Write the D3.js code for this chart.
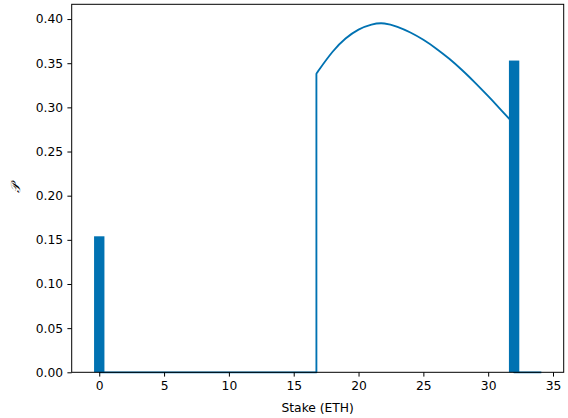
<!DOCTYPE html>
<html><head><meta charset="utf-8">
<script src="https://cdn.jsdelivr.net/npm/d3@7"></script>
<style>body{margin:0;background:#fff}svg{display:block}text{font-family:"DejaVu Sans",sans-serif}</style>
</head><body>
<svg id="c" width="568" height="418"></svg>
<script>
const barStakes = [0, 32];
const barProbs = [0.154, 0.353];
// flat part before the jump, smooth density part, flat part after the 32 ETH cap
const lowStakes = [0, 16.75];
const lowProbs = [0, 0];
const curveStakes = [16.75, 17, 18, 19, 20, 21, 22, 23, 24, 25, 26, 27, 28, 29, 30, 31, 31.9];
const curveProbs = [0.338, 0.3435, 0.363, 0.378, 0.388, 0.3938, 0.395, 0.3912, 0.3848, 0.3765, 0.3665, 0.355, 0.342, 0.3278, 0.3127, 0.297, 0.2828];
const highStakes = [31.9, 32, 34.1];
const highProbs = [0.2828, 0, 0];
const xTicks = [0, 5, 10, 15, 20, 25, 30, 35];
const yTicks = [0, 0.05, 0.10, 0.15, 0.20, 0.25, 0.30, 0.35, 0.40];
const color = "#0072B2";

const svg = d3.select("#c");
const L = 71.7, R = 563.7, T = 4.3, B = 372.3;
const x = d3.scaleLinear().domain([-2.125, 35.825]).range([L, R]);
const y = d3.scaleLinear().domain([0, 0.4167]).range([B, T]);

const pts = (xs, ys) => xs.map((s, i) => [s, ys[i]]);
const lin = d3.line().x(d => x(d[0])).y(d => y(d[1]));
const smooth = d3.line().x(d => x(d[0])).y(d => y(d[1])).curve(d3.curveNatural);
const lowPts = pts(lowStakes, lowProbs).concat([[curveStakes[0], curveProbs[0]]]);
const pathD = lin(lowPts) + smooth(pts(curveStakes, curveProbs)).replace(/^M[^CL]*/, "") + lin(pts(highStakes, highProbs)).replace(/^M[^L]*/, "");

const g = svg.append("g");
g.append("path")
  .attr("fill", "none").attr("stroke", color).attr("stroke-width", 1.85)
  .attr("stroke-linejoin", "round")
  .attr("d", pathD);

const bw = 0.8;
g.selectAll("rect.bar").data(barStakes).join("rect")
  .attr("x", d => x(d - bw / 2))
  .attr("width", d => x(d + bw / 2) - x(d - bw / 2))
  .attr("y", (d, i) => y(barProbs[i]))
  .attr("height", (d, i) => y(0) - y(barProbs[i]))
  .attr("fill", color);

const xAxis = d3.axisBottom(x).tickValues(xTicks).tickSize(4.3).tickPadding(4.3).tickFormat(d3.format("d"));
const gx = svg.append("g").attr("transform", `translate(0,${B})`).call(xAxis);
const yAxis = d3.axisLeft(y).tickValues(yTicks).tickSize(4.3).tickPadding(4.3).tickFormat(d3.format(".2f"));
const gy = svg.append("g").attr("transform", `translate(${L},0)`).call(yAxis);
[gx, gy].forEach(a => {
  a.select(".domain").remove();
  a.selectAll(".tick line").attr("stroke", "#000").attr("stroke-width", 1);
  a.selectAll(".tick text").attr("fill", "#000").style("font-size", "12.3px").style("font-family", "DejaVu Sans");
});

svg.append("rect").attr("x", L).attr("y", T).attr("width", R - L).attr("height", B - T)
  .attr("fill", "none").attr("stroke", "#000").attr("stroke-width", 1);

svg.append("text").attr("x", (L + R) / 2).attr("y", 412)
  .attr("text-anchor", "middle").style("font-size", "12.3px").text("Stake (ETH)");

svg.append("text").attr("transform", `translate(20,${(T + B) / 2}) rotate(-90)`)
  .attr("text-anchor", "middle").style("font-size", "13px")
  .style("font-family", "'DejaVu Serif', serif").style("font-style", "italic").text("𝒫");
</script>
</body></html>
